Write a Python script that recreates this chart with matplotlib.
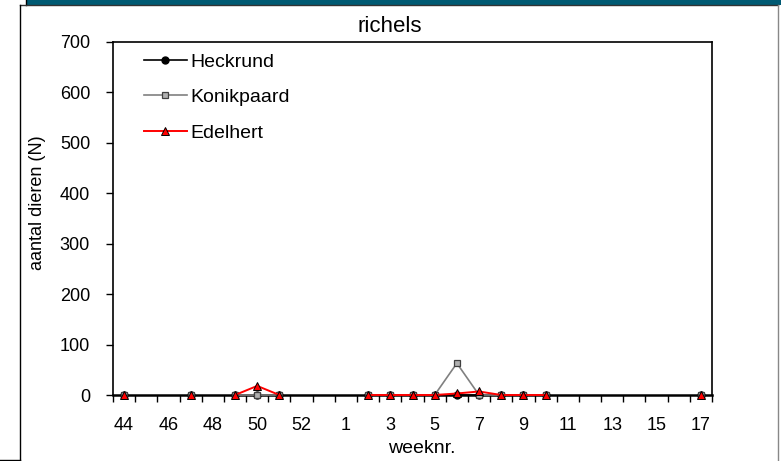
import numpy as np
import matplotlib
matplotlib.use("Agg")
import matplotlib.pyplot as plt
from matplotlib.patches import Rectangle
from matplotlib.lines import Line2D

plt.rcParams['font.family'] = ['Liberation Sans', 'DejaVu Sans']

weeks = list(range(44, 54)) + list(range(1, 18))
nan = np.nan
# values per observed week (other weeks: no observation)
obs_weeks = [44, 47, 49, 50, 51, 2, 3, 4, 5, 6, 7, 8, 9, 10, 17]
heckrund   = [0, 0, 0, 0, 0, 0, 0, 0, 0, 0, 0, 0, 0, 0, 0]
konikpaard = [0, 0, 0, 0, 0, 0, 0, 0, 0, 63, 0, 0, 0, 0, 0]
edelhert   = [0, 0, 0, 18, 0, 0, 0, 0, 0, 3, 7, 0, 0, 0, 0]
tick_labels = [str(w) if i % 2 == 0 else "" for i, w in enumerate(weeks)]

def series(vals):
    full = [nan] * len(weeks)
    for w, v in zip(obs_weeks, vals):
        full[weeks.index(w)] = v
    return np.array(full, dtype=float)

W, H = 781, 461
fig = plt.figure(figsize=(W / 100, H / 100), dpi=100)
fig.patch.set_facecolor('white')

# frame decorations
fig.patches.append(Rectangle((27 / W, 1 - 5 / H), 1, 5 / H, transform=fig.transFigure,
                             facecolor='#005a73', edgecolor='none', zorder=0))
fig.lines.append(Line2D([26 / W, 26 / W], [1, 1 - 5 / H], transform=fig.transFigure, color='black', lw=1))
fig.lines.append(Line2D([20 / W, 778 / W], [1 - 5.5 / H, 1 - 5.5 / H], transform=fig.transFigure, color='#333333', lw=1))
fig.lines.append(Line2D([20 / W, 20 / W], [1 - 5.5 / H, 1 - 459.5 / H], transform=fig.transFigure, color='black', lw=1))
fig.lines.append(Line2D([0, 20 / W], [1 - 459.5 / H, 1 - 459.5 / H], transform=fig.transFigure, color='black', lw=1))
fig.lines.append(Line2D([778 / W, 778 / W], [1 - 5.5 / H, 0], transform=fig.transFigure, color='#888888', lw=1))

ax = fig.add_axes([113 / W, 1 - 395 / H, (712 - 113) / W, (395 - 42) / H])
x = np.arange(len(weeks))

ax.plot(x, series(heckrund), color='black', lw=1.2, marker='o', ms=5,
        mfc='black', mec='black', label='Heckrund', clip_on=False, zorder=3)
ax.plot(x, series(konikpaard), color='#808080', lw=1.2, marker='s', ms=5,
        mfc='#b0b0b0', mec='#404040', mew=0.9, label='Konikpaard', clip_on=False, zorder=4)
ax.plot(x, series(edelhert), color='red', lw=1.4, marker='^', ms=5.5,
        mfc='red', mec='black', mew=0.7, label='Edelhert', clip_on=False, zorder=5)

ax.set_xlim(-0.5, len(weeks) - 0.5)
ax.set_ylim(0, 700)
ax.set_yticks(range(0, 701, 100))
ax.set_xticks(np.arange(-0.5, len(weeks), 1.0))
ax.set_xticklabels([])
ax.set_xticks(x, minor=True)
ax.set_xticklabels(tick_labels, minor=True)
ax.tick_params(axis='x', which='major', direction='out', length=5, width=1)
ax.tick_params(axis='x', which='minor', length=0, pad=15.5, labelsize=13)
ax.tick_params(axis='y', direction='out', length=5, width=1, labelsize=13, pad=11.5)
for s in ax.spines.values():
    s.set_linewidth(1.2)
    s.set_color('black')
ax.spines['bottom'].set_linewidth(1.8)

fig.text(422 / W, 1 - 448 / H, 'weeknr.', ha='center', va='center', fontsize=14)
fig.text(38 / W, 1 - 203 / H, 'aantal dieren (N)', ha='center', va='center', rotation=90,
         fontsize=13, family=['Liberation Sans Narrow', 'Liberation Sans', 'DejaVu Sans'])
fig.text(390 / W, 1 - 32 / H, 'richels', ha='center', va='baseline', fontsize=16)

leg = ax.legend(loc='upper left', bbox_to_anchor=(144 / W, 1 - 53 / H), bbox_transform=fig.transFigure,
                frameon=False, fontsize=14, labelspacing=0.93, handlelength=2.2,
                handletextpad=0.2, borderpad=0, borderaxespad=0)

fig.savefig('out.png', dpi=100)
